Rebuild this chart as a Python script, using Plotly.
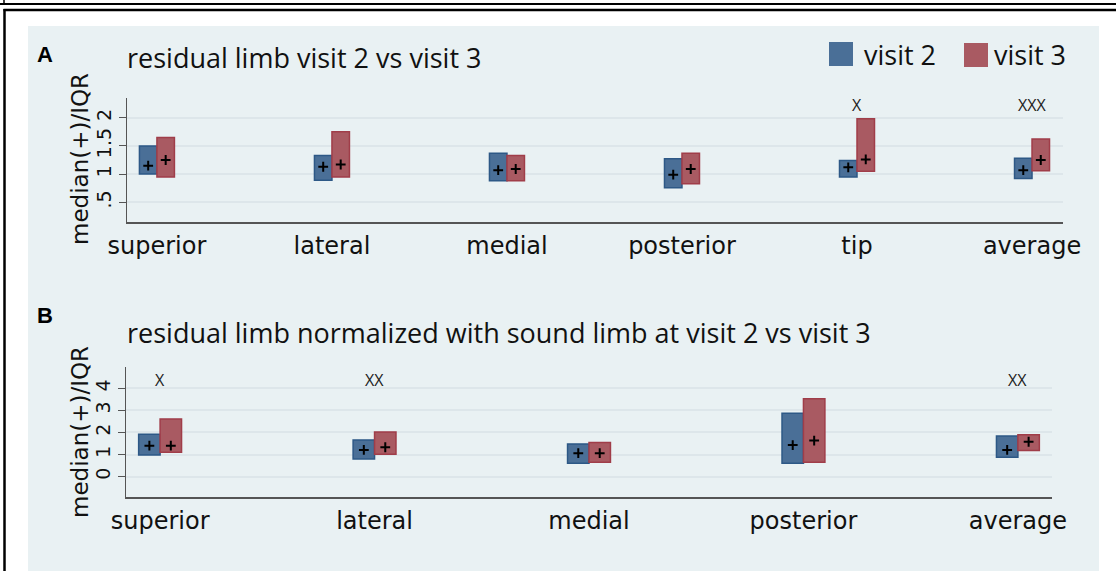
import numpy as np
import plotly.graph_objects as go

W, H = 1116, 571

# ---------------- data ----------------
cats_a = ["superior", "lateral", "medial", "posterior", "tip", "average"]
v2_q1_a = [1.00, 0.89, 0.88, 0.76, 0.95, 0.92]
v2_q3_a = [1.50, 1.33, 1.37, 1.27, 1.24, 1.28]
v2_med_a = [1.15, 1.13, 1.07, 0.99, 1.12, 1.07]
v3_q1_a = [0.95, 0.95, 0.88, 0.83, 1.05, 1.06]
v3_q3_a = [1.65, 1.75, 1.33, 1.37, 1.98, 1.62]
v3_med_a = [1.25, 1.17, 1.09, 1.09, 1.26, 1.25]
sig_a = ["", "", "", "", "X", "XXX"]
ticks_a = [0.5, 1, 1.5, 2]
ticklabels_a = [".5", "1", "1.5", "2"]

cats_b = ["superior", "lateral", "medial", "posterior", "average"]
v2_q1_b = [0.98, 0.80, 0.61, 0.61, 0.88]
v2_q3_b = [1.92, 1.66, 1.48, 2.87, 1.84]
v2_med_b = [1.40, 1.21, 1.06, 1.43, 1.21]
v3_q1_b = [1.10, 1.01, 0.65, 0.65, 1.18]
v3_q3_b = [2.61, 2.02, 1.54, 3.52, 1.89]
v3_med_b = [1.40, 1.33, 1.06, 1.63, 1.58]
sig_b = ["X", "XX", "", "", "XX"]
ticks_b = [0, 1, 2, 3, 4]
ticklabels_b = ["0", "1", "2", "3", "4"]

series_names = ["visit 2", "visit 3"]

# ---------------- style ----------------
BLUE_FILL, BLUE_EDGE = "#4a6f97", "#2d5886"
RED_FILL, RED_EDGE = "#a95a62", "#a03d49"
PANEL_BG = "#e9f1f3"
GRID = "#dde6ea"
AXIS = "#555555"
BW = 0.1


def px(x):
    return x / W


def py(y):
    return 1 - y / H


fig = go.Figure()


def add_panel(xa, ya, cats, q1s, q3s, meds):
    xi = np.arange(len(cats))
    for k, (q1, q3, med) in enumerate(zip(q1s, q3s, meds)):
        fill, edge = (BLUE_FILL, BLUE_EDGE) if k == 0 else (RED_FILL, RED_EDGE)
        q1 = np.array(q1)
        q3 = np.array(q3)
        off = -BW if k == 0 else 0.0
        fig.add_trace(go.Bar(
            x=xi, y=q3 - q1, base=q1, width=BW, offset=off,
            marker=dict(color=fill, line=dict(color=edge, width=1.5)),
            name=series_names[k], showlegend=False, xaxis=xa, yaxis=ya,
            hoverinfo="skip"))
        fig.add_trace(go.Scatter(
            x=xi + off + BW / 2, y=med, mode="markers",
            marker=dict(symbol="cross-thin", size=7,
                        line=dict(color="black", width=2)),
            showlegend=False, xaxis=xa, yaxis=ya, hoverinfo="skip"))


add_panel("x", "y", cats_a, [v2_q1_a, v3_q1_a], [v2_q3_a, v3_q3_a], [v2_med_a, v3_med_a])
add_panel("x2", "y2", cats_b, [v2_q1_b, v3_q1_b], [v2_q3_b, v3_q3_b], [v2_med_b, v3_med_b])

xlab_font = dict(family="DejaVu Sans", size=24, color="#111111")
ytick_font = dict(family="DejaVu Sans", size=19, color="#111111")

common_x = dict(showgrid=False, zeroline=False, showline=True, linecolor=AXIS,
                linewidth=2, ticks="", tickfont=xlab_font, ticklabelstandoff=1,
                fixedrange=True, automargin=False)
common_y = dict(showgrid=True, gridcolor=GRID, gridwidth=1.5, zeroline=False,
                showline=True, linecolor=AXIS, linewidth=1.3, ticks="outside",
                ticklen=7, tickwidth=1.3, tickcolor=AXIS, tickangle=-90,
                tickfont=ytick_font, fixedrange=True, automargin=False)

fig.update_layout(
    width=W, height=H, margin=dict(l=0, r=0, t=0, b=0, autoexpand=False),
    paper_bgcolor="white", plot_bgcolor="white", barmode="overlay",
    showlegend=False,
    xaxis=dict(common_x, domain=[px(127), px(1063)], range=[-0.171, 5.177],
               tickvals=list(range(len(cats_a))), ticktext=cats_a, anchor="y"),
    yaxis=dict(common_y, domain=[py(221.7), py(98)], range=[0.156, 2.349],
               tickvals=ticks_a, ticktext=ticklabels_a, anchor="x"),
    xaxis2=dict(common_x, domain=[px(126), px(1052)], range=[-0.159, 4.159],
                tickvals=list(range(len(cats_b))), ticktext=cats_b, anchor="y2"),
    yaxis2=dict(common_y, domain=[py(497), py(367)], range=[-0.92, 4.96],
                tickvals=ticks_b, ticktext=ticklabels_b, anchor="x2"),
)

shapes = []
# light panel background
shapes.append(dict(type="rect", xref="paper", yref="paper", x0=px(28), x1=px(1099),
                   y0=py(H + 5), y1=py(26), fillcolor=PANEL_BG, line=dict(width=0),
                   layer="below"))
# black frame lines
shapes.append(dict(type="line", xref="paper", yref="paper", x0=0, x1=1, y0=py(4), y1=py(4),
                   line=dict(color="black", width=2)))
shapes.append(dict(type="line", xref="paper", yref="paper", x0=px(4), x1=px(4), y0=py(0), y1=py(4),
                   line=dict(color="black", width=1.5)))
shapes.append(dict(type="line", xref="paper", yref="paper", x0=px(3.5), x1=1, y0=py(10), y1=py(10),
                   line=dict(color="black", width=2.5)))
shapes.append(dict(type="line", xref="paper", yref="paper", x0=px(4.5), x1=px(4.5), y0=py(9), y1=py(H + 5),
                   line=dict(color="black", width=2.5)))
# legend keys
shapes.append(dict(type="rect", xref="paper", yref="paper", x0=px(829), x1=px(853),
                   y0=py(66), y1=py(42), fillcolor=BLUE_FILL, line=dict(width=0)))
shapes.append(dict(type="rect", xref="paper", yref="paper", x0=px(964), x1=px(988),
                   y0=py(67), y1=py(43), fillcolor=RED_FILL, line=dict(width=0)))
fig.update_layout(shapes=shapes)

title_font = dict(family="Open Sans", size=27, color="#111111")
ann = []
ann.append(dict(text="residual limb visit 2 vs visit 3", xref="paper", yref="paper",
                x=px(125), y=py(57), xanchor="left", yanchor="middle",
                showarrow=False, font=title_font))
ann.append(dict(text="residual limb normalized with sound limb at visit 2 vs visit 3",
                xref="paper", yref="paper", x=px(125), y=py(332), xanchor="left",
                yanchor="middle", showarrow=False, font=title_font))
ann.append(dict(text="visit 2", xref="paper", yref="paper", x=px(862), y=py(55),
                xanchor="left", yanchor="middle", showarrow=False, font=title_font))
ann.append(dict(text="visit 3", xref="paper", yref="paper", x=px(992), y=py(55),
                xanchor="left", yanchor="middle", showarrow=False, font=title_font))
for letter, yc in (("A", 55), ("B", 315)):
    ann.append(dict(text=f"<b>{letter}</b>", xref="paper", yref="paper", x=px(45), y=py(yc),
                    xanchor="center", yanchor="middle", showarrow=False,
                    font=dict(family="Liberation Sans", size=22, color="black")))
for yc in (159, 432):
    ann.append(dict(text="median(+)/IQR", xref="paper", yref="paper", x=px(80), y=py(yc),
                    xanchor="center", yanchor="middle", textangle=-90, showarrow=False,
                    font=dict(family="DejaVu Sans", size=23, color="#111111")))
sig_font = dict(family="Open Sans", size=16, color="#222222")
for i, s in enumerate(sig_a):
    if s:
        ann.append(dict(text=s, xref="x", yref="y domain", x=i, y=0.94,
                        xanchor="center", yanchor="middle", showarrow=False, font=sig_font))
for i, s in enumerate(sig_b):
    if s:
        ann.append(dict(text=s, xref="x2", yref="y2 domain", x=i, y=0.9,
                        xanchor="center", yanchor="middle", showarrow=False, font=sig_font))
fig.update_layout(annotations=ann)

fig.write_html("out.html")
